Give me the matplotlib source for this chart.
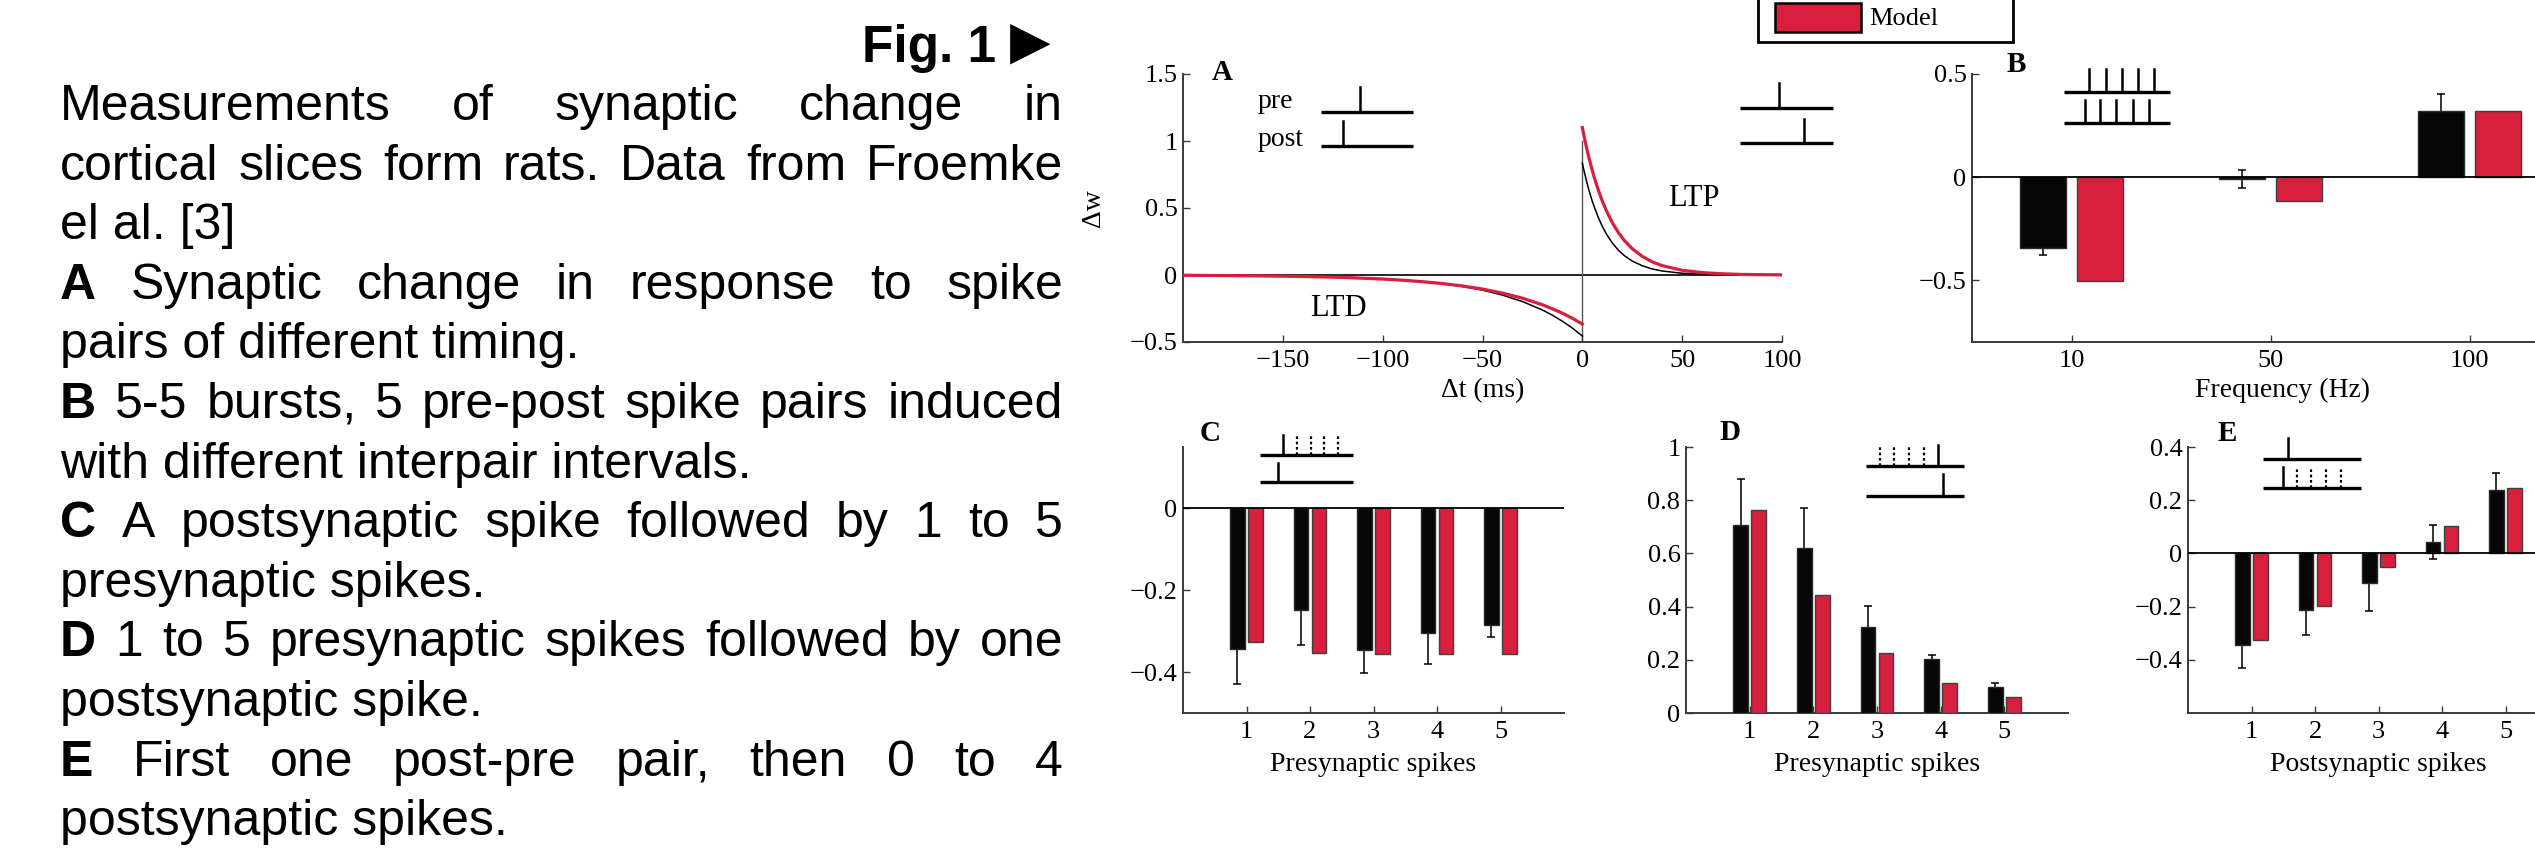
"""Figure 1: STDP window and burst/multi-spike protocols, data vs. model."""

import matplotlib
matplotlib.use('Agg')
import matplotlib.pyplot as plt
import matplotlib.ticker as mticker
from matplotlib.patches import Rectangle
from matplotlib.transforms import IdentityTransform
import numpy as np

W, H = 2535, 858
plt.rcParams['font.family'] = ['Liberation Serif', 'DejaVu Serif']
plt.rcParams['axes.unicode_minus'] = True

DATA_COLOR = '#060606'
MODEL_COLOR = '#d81f3d'
WIDTH = 0.23
OFF = 0.143

# ---- A: STDP window (values read at sample times, ms) ----
dt_ltd = [-200, -180, -160, -140, -120, -100, -90, -80, -70, -60, -50, -40,
          -30, -20, -15, -10, -5, 0]
fit_ltd = [-0.002, -0.003, -0.005, -0.009, -0.016, -0.028, -0.037, -0.049,
           -0.065, -0.086, -0.113, -0.150, -0.198, -0.261, -0.300, -0.345,
           -0.396, -0.455]
model_ltd = [-0.002, -0.004, -0.007, -0.011, -0.018, -0.030, -0.039, -0.050,
             -0.064, -0.082, -0.105, -0.135, -0.173, -0.222, -0.252, -0.285,
             -0.323, -0.366]
dt_ltp = [0, 1, 2, 3, 4, 5, 6, 8, 10, 12, 15, 18, 21, 25, 30, 35, 40, 50, 60,
          70, 80, 100]
fit_ltp = [0.835, 0.768, 0.707, 0.650, 0.598, 0.550, 0.507, 0.429, 0.363,
           0.307, 0.239, 0.186, 0.145, 0.104, 0.069, 0.045, 0.030, 0.013,
           0.006, 0.002, 0.001, 0.000]
model_ltp = [1.100, 1.026, 0.958, 0.894, 0.835, 0.779, 0.727, 0.634, 0.552,
             0.481, 0.391, 0.318, 0.258, 0.196, 0.139, 0.098, 0.070, 0.035,
             0.018, 0.009, 0.004, 0.001]

# ---- B: 5-5 bursts at different frequencies ----
freq_labels = ['10', '50', '100']
b_data = [-0.343, -0.008, 0.320]
b_err = [0.036, 0.043, 0.085]
b_model = [-0.505, -0.117, 0.320]

# ---- C: post then 1..5 pre spikes ----
n_spikes = [1, 2, 3, 4, 5]
c_data = [-0.343, -0.248, -0.347, -0.304, -0.284]
c_err = [0.085, 0.087, 0.055, 0.077, 0.031]
c_model = [-0.326, -0.353, -0.356, -0.357, -0.357]

# ---- D: 1..5 pre spikes then one post ----
d_data = [0.706, 0.620, 0.322, 0.203, 0.097]
d_err = [0.173, 0.152, 0.079, 0.015, 0.016]
d_model = [0.763, 0.444, 0.224, 0.112, 0.059]

# ---- E: post-pre pair, then 0..4 post spikes ----
e_data = [-0.344, -0.212, -0.112, 0.043, 0.238]
e_err = [0.085, 0.095, 0.105, 0.064, 0.066]
e_model = [-0.325, -0.199, -0.051, 0.104, 0.244]

caption = [
    ('', 'Measurements of synaptic change in', True),
    ('', 'cortical slices form rats. Data from Froemke', True),
    ('', 'el al. [3]', False),
    ('A', 'Synaptic change in response to spike', True),
    ('', 'pairs of different timing.', False),
    ('B', '5-5 bursts, 5 pre-post spike pairs induced', True),
    ('', 'with different interpair intervals.', False),
    ('C', 'A postsynaptic spike followed by 1 to 5', True),
    ('', 'presynaptic spikes.', False),
    ('D', '1 to 5 presynaptic spikes followed by one', True),
    ('', 'postsynaptic spike.', False),
    ('E', 'First one post-pre pair, then 0 to 4', True),
    ('', 'postsynaptic spikes.', False),
]

fig = plt.figure(figsize=(W / 100, H / 100), dpi=100)


def px_axes(left, top, right, bottom):
    return fig.add_axes([left / W, 1 - bottom / H, (right - left) / W, (bottom - top) / H])


def style(ax):
    for s in ('top', 'right'):
        ax.spines[s].set_visible(False)
    for s in ('left', 'bottom'):
        ax.spines[s].set_color('#3a3a3a')
        ax.spines[s].set_linewidth(1.4)
    ax.tick_params(direction='in', length=5, width=1.0, colors='#3a3a3a',
                   labelcolor='black', labelsize=19)
    ax.tick_params(axis='x', pad=6)
    ax.tick_params(axis='y', pad=4)
    ax.yaxis.set_major_formatter(mticker.FuncFormatter(
        lambda v, p: f'{v:g}'.replace('-', '\u2212')))


def letter(ax, s, x, y):
    ax.text(x, y, s, transform=ax.transAxes, fontsize=21, fontweight='bold',
            ha='center', va='center', clip_on=False)


def train(ax, x0, x1, y, top, solid=(), dotted=()):
    kw = dict(transform=ax.transAxes, clip_on=False, color='black')
    ax.plot([x0, x1], [y, y], lw=2.4, solid_capstyle='butt', **kw)
    for xs in solid:
        ax.plot([xs, xs], [y, top], lw=1.8, **kw)
    for xs in dotted:
        ax.plot([xs, xs], [y, top], lw=1.6, ls=(0, (1.2, 1.2)), **kw)


def paired_bars(ax, x, data, err, model):
    x = np.asarray(x, dtype=float)
    ax.errorbar(x - OFF, data, yerr=err, fmt='none', ecolor='black',
                elinewidth=1.1, capsize=3, capthick=1.1, zorder=2)
    ax.bar(x - OFF, data, WIDTH, color=DATA_COLOR, edgecolor='#2a2a2a',
           linewidth=1.0, zorder=3)
    ax.bar(x + OFF, model, WIDTH, color=MODEL_COLOR, edgecolor='#404040',
           linewidth=1.0, zorder=3)


# ---- Panel A ----
axA = px_axes(1183, 74, 1782, 342)
style(axA)
axA.axhline(0, color='black', lw=1.2, zorder=1)
axA.plot([0, 0], [-0.5, 1.0], color='#555555', lw=1.0, zorder=1)
axA.plot(dt_ltd, fit_ltd, color='black', lw=1.1, zorder=2)
axA.plot(dt_ltp, fit_ltp, color='black', lw=1.1, zorder=2)
axA.plot(dt_ltd, model_ltd, color=MODEL_COLOR, lw=2.3, zorder=3)
axA.plot(dt_ltp, model_ltp, color=MODEL_COLOR, lw=2.3, zorder=3)
axA.set_xlim(-200, 100)
axA.set_ylim(-0.5, 1.5)
axA.set_xticks([-150, -100, -50, 0, 50, 100])
axA.set_yticks([-0.5, 0, 0.5, 1, 1.5])
axA.xaxis.set_major_formatter(mticker.FuncFormatter(
    lambda v, p: f'{v:g}'.replace('-', '\u2212')))
axA.set_xlabel('\u0394t (ms)', fontsize=20)
axA.xaxis.set_label_coords(0.5, -0.135)
axA.set_ylabel('\u0394w', fontsize=20)
axA.yaxis.set_label_coords(-0.128, 0.5)
axA.text(56, 0.57, 'LTP', fontsize=22, ha='center', va='center')
axA.text(-122, -0.25, 'LTD', fontsize=22, ha='center', va='center')
axA.text(0.125, 0.872, 'pre', transform=axA.transAxes, fontsize=20, va='baseline')
axA.text(0.125, 0.732, 'post', transform=axA.transAxes, fontsize=20, va='baseline')
train(axA, 0.230, 0.384, 0.859, 0.950, solid=[0.295])
train(axA, 0.230, 0.384, 0.732, 0.825, solid=[0.267])
train(axA, 0.930, 1.085, 0.872, 0.965, solid=[0.995])
train(axA, 0.930, 1.085, 0.741, 0.832, solid=[1.037])
letter(axA, 'A', 0.065, 1.007)

# ---- Panel B ----
axB = px_axes(1972, 74, 2569, 342)
style(axB)
xb = np.arange(1, len(freq_labels) + 1)
paired_bars(axB, xb, b_data, b_err, b_model)
axB.axhline(0, color='black', lw=1.3, zorder=4)
axB.set_xlim(0.5, 3.5)
axB.set_ylim(-0.8, 0.5)
axB.set_xticks(xb)
axB.set_xticklabels(freq_labels)
axB.set_yticks([-0.5, 0, 0.5])
axB.set_xlabel('Frequency (Hz)', fontsize=20)
axB.xaxis.set_label_coords(0.52, -0.135)
train(axB, 0.154, 0.332, 0.934, 1.019, solid=[0.196, 0.224, 0.251, 0.278, 0.305])
train(axB, 0.154, 0.332, 0.816, 0.903, solid=[0.189, 0.214, 0.241, 0.270, 0.296])
letter(axB, 'B', 0.074, 1.034)

# ---- Panel C ----
axC = px_axes(1183, 447, 1564, 713)
style(axC)
paired_bars(axC, n_spikes, c_data, c_err, c_model)
axC.axhline(0, color='black', lw=1.3, zorder=4)
axC.set_xlim(0, 6)
axC.set_ylim(-0.5, 0.15)
axC.set_xticks(n_spikes)
axC.set_yticks([-0.4, -0.2, 0])
axC.set_xlabel('Presynaptic spikes', fontsize=20)
axC.xaxis.set_label_coords(0.5, -0.145)
train(axC, 0.202, 0.446, 0.970, 1.045, solid=[0.262], dotted=[0.299, 0.336, 0.370, 0.407])
train(axC, 0.202, 0.446, 0.867, 0.941, solid=[0.249])
letter(axC, 'C', 0.071, 1.049)

# ---- Panel D ----
axD = px_axes(1686, 447, 2068, 713)
style(axD)
paired_bars(axD, n_spikes, d_data, d_err, d_model)
axD.set_xlim(0, 6)
axD.set_ylim(0, 1)
axD.set_xticks(n_spikes)
axD.set_yticks([0, 0.2, 0.4, 0.6, 0.8, 1])
axD.set_xlabel('Presynaptic spikes', fontsize=20)
axD.xaxis.set_label_coords(0.5, -0.145)
train(axD, 0.471, 0.728, 0.929, 1.008, solid=[0.660], dotted=[0.509, 0.545, 0.585, 0.624])
train(axD, 0.471, 0.728, 0.817, 0.898, solid=[0.673])
letter(axD, 'D', 0.115, 1.053)

# ---- Panel E ----
axE = px_axes(2188, 447, 2569, 713)
style(axE)
paired_bars(axE, n_spikes, e_data, e_err, e_model)
axE.axhline(0, color='black', lw=1.3, zorder=4)
axE.set_xlim(0, 6)
axE.set_ylim(-0.6, 0.4)
axE.set_xticks(n_spikes)
axE.set_yticks([-0.4, -0.2, 0, 0.2, 0.4])
axE.set_xlabel('Postsynaptic spikes', fontsize=20)
axE.xaxis.set_label_coords(0.5, -0.145)
train(axE, 0.197, 0.454, 0.954, 1.034, solid=[0.263])
train(axE, 0.197, 0.454, 0.845, 0.925, solid=[0.250], dotted=[0.286, 0.323, 0.362, 0.402])
letter(axE, 'E', 0.102, 1.05)

# ---- legend box (top row sits above the page edge) ----
def fig_rect(x0, y0, x1, y1, **kw):
    r = Rectangle((x0 / W, 1 - y1 / H), (x1 - x0) / W, (y1 - y0) / H,
                  transform=fig.transFigure, clip_on=False, **kw)
    fig.add_artist(r)

fig_rect(1758, -60, 2013, 42, facecolor='white', edgecolor='black', lw=2.0)
fig_rect(1775, 3, 1861, 32, facecolor=MODEL_COLOR, edgecolor='black', lw=1.8)
fig.text(1869 / W, 1 - 19 / H, 'Model', fontsize=19, va='center', ha='left')

# ---- caption column ----
CAP_FONT = ['Liberation Sans', 'DejaVu Sans']
renderer = fig.canvas.get_renderer()
x_left, x_right = 60, 1063
for i, (lead, body, justify) in enumerate(caption):
    y = H - (120 + 59.6 * i)
    words = ([(lead, 'bold')] if lead else []) + [(w, 'normal') for w in body.split()]
    if justify:
        arts = [fig.text(0, y, w, transform=IdentityTransform(), fontsize=36,
                         fontweight=fw, family=CAP_FONT, va='baseline')
                for w, fw in words]
        widths = [a.get_window_extent(renderer).width for a in arts]
        gap = (x_right - x_left - sum(widths)) / (len(arts) - 1)
        x = x_left
        for a, w in zip(arts, widths):
            a.set_x(x)
            x += w + gap
    else:
        fig.text(x_left, y, body, transform=IdentityTransform(), fontsize=36,
                 family=CAP_FONT, va='baseline')

fig.text(996, H - 62, 'Fig. 1', transform=IdentityTransform(), fontsize=37,
         fontweight='bold', family=CAP_FONT, ha='right', va='baseline')
fig.text(1030, H - 42, '\u25b6', transform=IdentityTransform(), fontsize=38,
         family=['DejaVu Sans'], ha='center', va='center')

fig.savefig('out.png', dpi=100)
